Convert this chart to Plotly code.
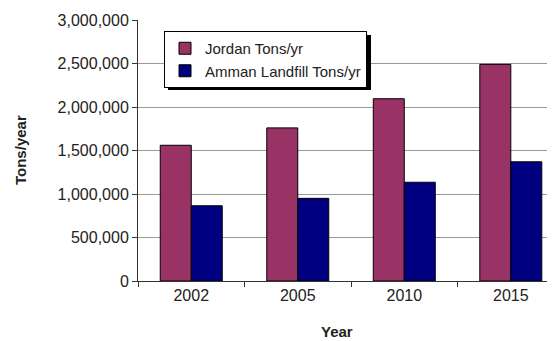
import plotly.graph_objects as go

years = ["2002", "2005", "2010", "2015"]
jordan = [1560000, 1760000, 2095000, 2490000]
amman = [865000, 950000, 1135000, 1370000]
y_ticks = [0, 500000, 1000000, 1500000, 2000000, 2500000, 3000000]

# page has an 8px body margin; lay out in page pixels and offset
OFF = 8
W, H = 555 - OFF, 341 - OFF
PL, PT, PB, PR = 138, 20, 281, 555   # plot area in page pixels
L, T = PL - OFF, PT - OFF
B = H - (PB - OFF)
R = W - (PR - OFF)
pw, ph = W - L - R, H - T - B

def px(x):
    return (x - OFF - L) / pw

def py(y):
    return (H - B - (y - OFF)) / ph

# legend box (page px), measured
LG_X, LG_Y, LG_W, LG_H = 164, 31, 203, 55

font = "Liberation Sans, Arial, sans-serif"
fig = go.Figure()
fig.add_trace(go.Bar(x=years, y=jordan, name="Jordan Tons/yr",
                     marker=dict(color="#993366", line=dict(color="#000000", width=1))))
fig.add_trace(go.Bar(x=years, y=amman, name="Amman Landfill Tons/yr",
                     marker=dict(color="#000080", line=dict(color="#000000", width=1))))

fig.update_layout(
    width=W, height=H,
    margin=dict(l=L, r=R, t=T, b=B, pad=0),
    paper_bgcolor="white", plot_bgcolor="white",
    barmode="group", bargap=0.418, bargroupgap=0,
    font=dict(family=font, size=15, color="#222222"),
    showlegend=True,
    legend=dict(x=px(LG_X), y=py(LG_Y), xanchor="left", yanchor="top",
                bgcolor="white", bordercolor="black", borderwidth=1,
                font=dict(size=15, color="#222222"), tracegroupgap=0),
    xaxis=dict(type="category", range=[-0.5, 3.415], showline=True, linecolor="#333333",
               linewidth=1, ticks="outside", tickson="boundaries", ticklen=5,
               tickcolor="#333333", showgrid=False, tickfont=dict(size=16)),
    yaxis=dict(range=[0, 3000000], tickvals=y_ticks, tickformat=",d",
               showline=True, linecolor="#333333", linewidth=1, ticks="outside",
               ticklen=5, tickcolor="#333333", showgrid=True, gridcolor="#999999",
               gridwidth=1, zeroline=False, tickfont=dict(size=16)),
    shapes=[dict(type="rect", xref="paper", yref="paper",
                 x0=px(LG_X + 4), x1=px(LG_X + LG_W + 4),
                 y0=py(LG_Y + LG_H + 4), y1=py(LG_Y + 4),
                 fillcolor="black", line=dict(width=0), layer="above")],
    annotations=[
        dict(text="<b>Tons/year</b>", xref="paper", yref="paper", x=px(20), y=py(150),
             xanchor="center", yanchor="middle", textangle=-90, showarrow=False,
             font=dict(size=15, color="#222222")),
        dict(text="<b>Year</b>", xref="paper", yref="paper", x=px(337), y=py(331),
             xanchor="center", yanchor="middle", showarrow=False,
             font=dict(size=15, color="#222222")),
    ],
)
fig.write_html("out.html")
